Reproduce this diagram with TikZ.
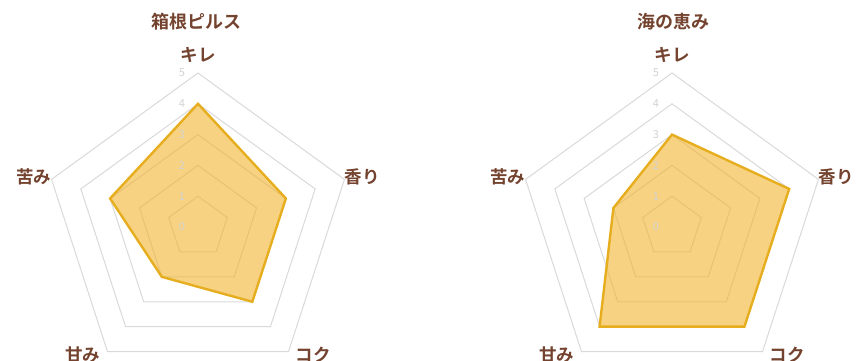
\documentclass[tikz,border=0pt]{standalone}
\usepackage{fontspec}
\usepackage{tikz}
\usetikzlibrary{calc}
\newfontfamily\jp{Noto Sans CJK JP}[BoldFont={Noto Sans CJK JP Bold}]
\definecolor{brownlabel}{HTML}{74432F}
\definecolor{ringgray}{HTML}{D9D9D9}
\definecolor{tickgray}{HTML}{D2D2D2}
\definecolor{areafill}{HTML}{F2B430}
\definecolor{areaedge}{HTML}{E6AE1E}

\begin{document}
\begin{tikzpicture}[x=1pt,y=1pt,
    ring/.style={ringgray,line width=1pt,line join=miter},
    ticklabel/.style={tickgray,font=\jp\fontsize{11}{11}\selectfont},
    axislabel/.style={brownlabel,font=\jp\bfseries\fontsize{17.5}{17.5}\selectfont},
    charttitle/.style={brownlabel,font=\jp\bfseries\fontsize{18}{18}\selectfont},
    dataarea/.style={fill=areafill,fill opacity=0.6,draw=areaedge,line width=2.4pt,line join=miter}]
  \useasboundingbox (0,0) rectangle (858,360);

    \begin{scope}[shift={(198,133)}]
      \node[charttitle] (T_hakone) at (-2,205) {箱根ピルス};

      \foreach \r in {1,...,5} {
        \draw[ring] (90:{\r*30.8}) \foreach \a in {18,-54,-126,162} { -- (\a:{\r*30.8}) } -- cycle;
      }

      \foreach \a/\v/\n in {90/4/kire,18/3/kaori,-54/3/koku,-126/2/amami,162/3/nigami} {
        \coordinate (H_\n) at (\a:{\v*30.8});
      }
      \draw[dataarea] (H_kire) -- (H_kaori) -- (H_koku) -- (H_amami) -- (H_nigami) -- cycle;

      \foreach \r in {0,...,5} {
        \node[ticklabel] (H_tick_\r) at (-16,{\r*30.8}) {\r};
      }

      \foreach \a/\t/\n in {90/キレ/kire,17/香り/kaori,-48/コク/koku,-132/甘み/amami,163/苦み/nigami} {
        \node[axislabel] (H_label_\n) at (\a:172) {\t};
      }
    \end{scope}

    \begin{scope}[shift={(672,133)}]
      \node[charttitle] (T_umi) at (1,205) {海の恵み};

      \foreach \r in {1,...,5} {
        \draw[ring] (90:{\r*30.8}) \foreach \a in {18,-54,-126,162} { -- (\a:{\r*30.8}) } -- cycle;
      }

      \foreach \a/\v/\n in {90/3/kire,18/4/kaori,-54/4/koku,-126/4/amami,162/2/nigami} {
        \coordinate (U_\n) at (\a:{\v*30.8});
      }
      \draw[dataarea] (U_kire) -- (U_kaori) -- (U_koku) -- (U_amami) -- (U_nigami) -- cycle;

      \foreach \r in {0,...,5} {
        \node[ticklabel] (U_tick_\r) at (-16,{\r*30.8}) {\r};
      }

      \foreach \a/\t/\n in {90/キレ/kire,17/香り/kaori,-48/コク/koku,-132/甘み/amami,163/苦み/nigami} {
        \node[axislabel] (U_label_\n) at (\a:172) {\t};
      }
    \end{scope}
  \end{tikzpicture}
\end{document}
